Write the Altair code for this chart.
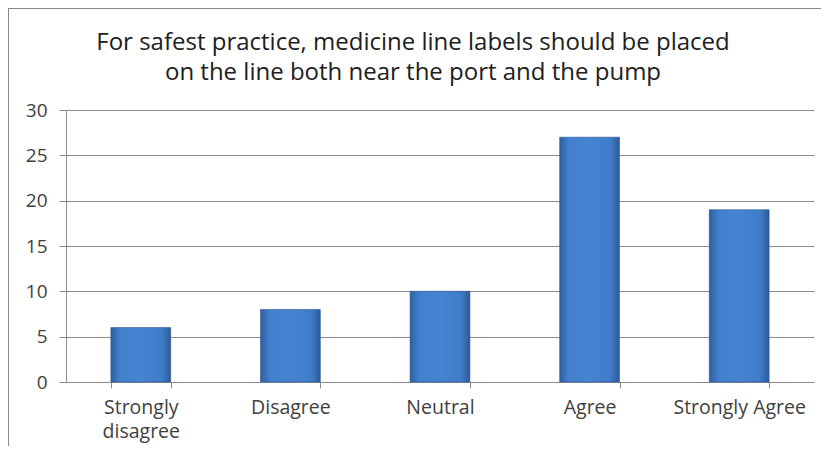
import altair as alt
import pandas as pd

categories = ["Strongly disagree", "Disagree", "Neutral", "Agree", "Strongly Agree"]
counts = [6, 8, 10, 27, 19]
y_ticks = [0, 5, 10, 15, 20, 25, 30]
title_lines = ["For safest practice, medicine line labels should be placed",
               "on the line both near the port and the pump"]

df = pd.DataFrame({"category": categories, "count": counts})

label_expr = ("datum.value == 'Strongly disagree' ? ['Strongly', 'disagree'] : datum.value")

grad = alt.LinearGradient(
    gradient="linear", x1=0, x2=1, y1=0, y2=0,
    stops=[alt.GradientStop(color="#2f5f9f", offset=0),
           alt.GradientStop(color="#4180cc", offset=0.15),
           alt.GradientStop(color="#4684d2", offset=0.5),
           alt.GradientStop(color="#3f7cc8", offset=0.85),
           alt.GradientStop(color="#2c5a98", offset=1)])

bars = alt.Chart(df).mark_bar(fill=grad, stroke="#2a5590", strokeWidth=0.6).encode(
    x=alt.X("category:N", sort=categories,
            scale=alt.Scale(paddingInner=0.6, paddingOuter=0.3),
            axis=alt.Axis(title=None, labelAngle=0, labelExpr=label_expr,
                          tickBand="extent", ticks=True, tickSize=6,
                          tickColor="#8c8c8c", domainColor="#8c8c8c",
                          labelFont="Open Sans", labelFontSize=19.5,
                          labelColor="#404040", labelPadding=10,
                          labelLineHeight=24, grid=False)),
    y=alt.Y("count:Q", scale=alt.Scale(domain=[0, 30], nice=False),
            axis=alt.Axis(title=None, values=y_ticks, tickSize=7,
                          tickColor="#8c8c8c", domainColor="#8c8c8c",
                          gridColor="#8c8c8c", gridWidth=1,
                          labelFont="Open Sans", labelFontSize=19,
                          labelColor="#404040", labelPadding=12)),
)

border = alt.Chart(df).mark_rect(fill=None, stroke="#8a8a8a", strokeWidth=2).encode(
    x=alt.value(-58), x2=alt.value(780), y=alt.value(-102), y2=alt.value(400)
)

chart = alt.layer(border, bars).properties(
    width=748, height=272,
    autosize=alt.AutoSizeParams(type="none"),
    padding={"left": 58, "top": 102, "right": 7, "bottom": 64},
    title=alt.TitleParams(text=title_lines, font="Open Sans", fontSize=24,
                          fontWeight="normal", color="#202020",
                          lineHeight=30, offset=-78, dx=-27, anchor="middle"),
).configure_view(stroke=None)

chart.save("out.html", embed_options={"renderer": "svg", "actions": False})
